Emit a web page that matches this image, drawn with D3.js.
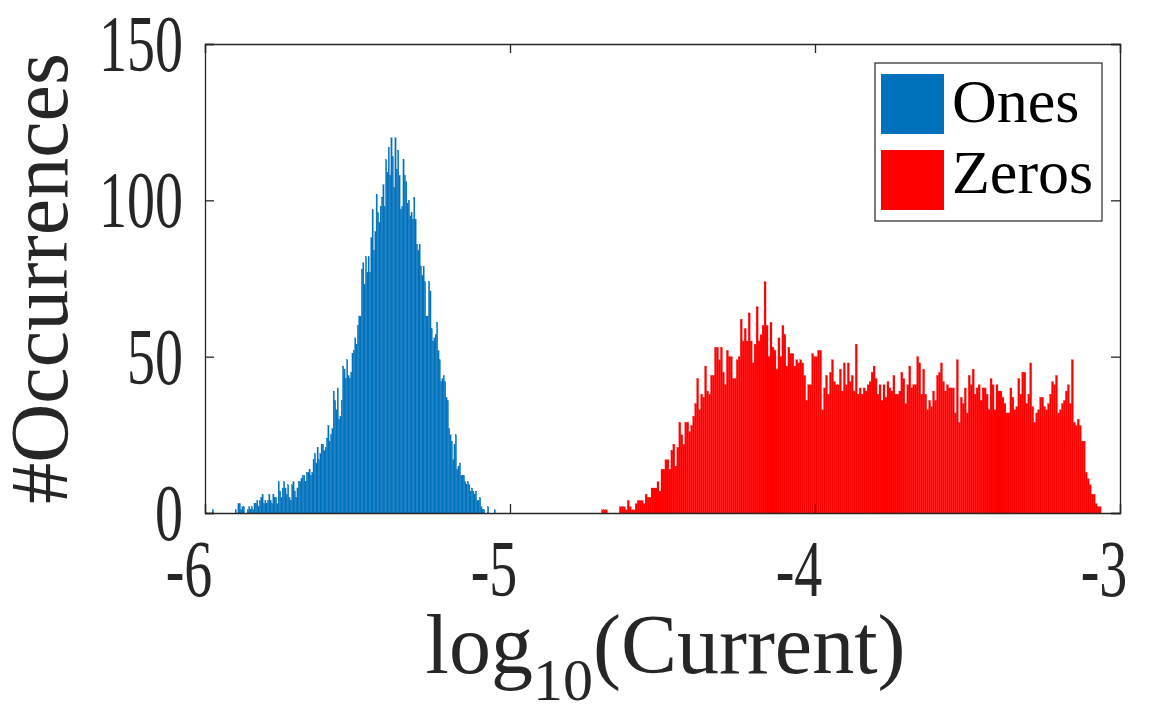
<!DOCTYPE html>
<html lang="en">
<head>
    <meta charset="UTF-8">
    <title>Ones / Zeros current histogram</title>
    <style>
        body { margin: 0; background: #fff; }
        text { font-family: "Liberation Serif", "DejaVu Serif", serif; fill: #262626; }
    </style>
</head>
<body>
<script type='text/javascript' src='https://d3js.org/d3.v7.min.js'></script>
<script>
    // histogram bin counts
    const blueStart = -5.976;   // left edge of first "Ones" bin
    const blueBinWidth = 0.0044;
    const blueCounts = [
        1, 0, 0, 0, 0, 0, 0, 0, 0, 0, 0, 0, 0, 0, 0, 0, 0,
        1, 0, 3, 3, 1, 2, 2, 0, 0, 1, 2, 1, 2, 1,
        3, 3, 4, 2, 4, 5, 6, 3, 4, 3, 4, 6, 4, 3, 6, 5, 5, 3, 10, 7,
        5, 8, 10, 8, 6, 9, 5, 4, 9, 10, 7, 5, 8, 10, 10, 11, 12, 12, 10, 13,
        13, 14, 12, 13, 17, 19, 16, 21, 17, 19, 22, 22, 20, 21, 24, 28, 23, 25, 27, 39,
        36, 33, 40, 30, 31, 36, 47, 46, 43, 49, 44, 43, 45, 51, 52, 56, 54, 60, 63, 63,
        78, 80, 73, 82, 77, 82, 77, 88, 97, 84, 90, 102, 96, 93, 98, 101, 105, 98, 113, 109,
        117, 108, 120, 114, 104, 120, 110, 116, 108, 97, 98, 113, 108, 106, 99, 100, 95, 96, 94, 101,
        94, 86, 84, 86, 79, 76, 79, 74, 63, 63, 74, 71, 59, 55, 56, 57, 61, 52, 49, 42,
        43, 44, 42, 37, 36, 27, 25, 23, 17, 22, 25, 14, 15, 16, 12, 12, 12, 10, 9, 10,
        9, 7, 8, 7, 6, 7, 4, 4, 5, 2, 1, 1, 0, 0, 2, 0, 0, 0, 0, 1
    ];

    const redStart = -4.70;     // left edge of first "Zeros" bin
    const redBinWidth = 0.0065;
    const redCounts = [
        1, 1, 1, 0, 0, 0, 0, 0, 0, 2,
        2, 2, 1, 4, 2, 1, 1, 3, 4, 4,
        4, 3, 6, 5, 5, 8, 8, 8, 10, 7,
        14, 14, 17, 17, 14, 20, 22, 15, 21, 29,
        25, 22, 29, 29, 26, 28, 31, 35, 43, 33,
        38, 37, 47, 39, 38, 44, 44, 53, 53, 49,
        53, 45, 41, 52, 50, 50, 43, 43, 49, 50,
        62, 55, 59, 55, 64, 55, 48, 54, 66, 55,
        57, 60, 74, 60, 50, 61, 53, 52, 46, 56,
        50, 60, 57, 47, 53, 51, 51, 47, 49, 48,
        49, 48, 44, 36, 41, 41, 51, 50, 50, 52,
        52, 33, 40, 44, 38, 45, 49, 42, 41, 41,
        46, 39, 48, 41, 48, 42, 44, 39, 54, 38,
        40, 38, 40, 39, 41, 42, 45, 47, 43, 38,
        41, 36, 41, 37, 42, 40, 39, 44, 38, 38,
        39, 45, 43, 35, 41, 47, 40, 41, 41, 50,
        48, 38, 46, 38, 33, 36, 34, 39, 36, 44,
        45, 48, 42, 39, 41, 40, 40, 40, 32, 49,
        29, 37, 35, 40, 32, 44, 41, 46, 38, 40,
        41, 36, 40, 40, 38, 33, 43, 41, 33, 41,
        39, 39, 37, 35, 32, 32, 40, 37, 33, 34,
        43, 38, 45, 45, 35, 38, 48, 34, 29, 32,
        33, 37, 37, 34, 33, 35, 38, 42, 41, 44,
        32, 33, 35, 36, 39, 41, 35, 49, 29, 28,
        30, 28, 23, 23, 13, 11, 9, 6, 6, 3,
        2, 2
    ];

    const xTicks = [-6, -5, -4, -3];
    const yTicks = [0, 50, 100, 150];
    const seriesNames = ["Ones", "Zeros"];
    const seriesColors = ["#0072BD", "#FF0000"];

    // build bin objects
    const blueBins = blueCounts.map((c, i) => ({x0: blueStart + i * blueBinWidth, x1: blueStart + (i + 1) * blueBinWidth, n: c}));
    const redBins = redCounts.map((c, i) => ({x0: redStart + i * redBinWidth, x1: redStart + (i + 1) * redBinWidth, n: c}));

    // dimensions
    const W = 1152, H = 717;
    const margin = {top: 44, right: 32, bottom: 204, left: 205};
    const width = W - margin.left - margin.right;
    const height = H - margin.top - margin.bottom;
    const axisColor = "#262626";

    const svg = d3.select("body")
        .append("svg")
        .attr("width", W)
        .attr("height", H);

    const g = svg.append("g")
        .attr("transform", "translate(" + margin.left + "," + margin.top + ")");

    const x = d3.scaleLinear().domain([-6, -3]).range([0, width]);
    const y = d3.scaleLinear().domain([0, 150]).range([height, 0]);

    // bars
    function drawBars(bins, color) {
        g.append("g")
            .selectAll("rect")
            .data(bins.filter(d => d.n > 0))
            .enter()
            .append("rect")
            .attr("x", d => x(d.x0))
            .attr("width", d => x(d.x1) - x(d.x0))
            .attr("y", d => y(d.n))
            .attr("height", d => y(0) - y(d.n))
            .attr("fill", color)
            .attr("stroke", color)
            .attr("stroke-width", 0.25);
    }
    drawBars(blueBins, seriesColors[0]);
    drawBars(redBins, seriesColors[1]);

    // axes (MATLAB box with inward ticks on all sides)
    const tickLen = 9;
    const axBottom = g.append("g")
        .attr("transform", "translate(0," + height + ")")
        .call(d3.axisBottom(x).tickValues(xTicks).tickSize(-tickLen).tickFormat(""));
    const axTop = g.append("g")
        .call(d3.axisTop(x).tickValues(xTicks).tickSize(-tickLen).tickFormat(""));
    const axLeft = g.append("g")
        .call(d3.axisLeft(y).tickValues(yTicks).tickSize(-tickLen).tickFormat(""));
    const axRight = g.append("g")
        .attr("transform", "translate(" + width + ",0)")
        .call(d3.axisRight(y).tickValues(yTicks).tickSize(-tickLen).tickFormat(""));
    [axBottom, axTop, axLeft, axRight].forEach(a => {
        a.selectAll("path").attr("stroke", axisColor).attr("stroke-width", 1.3);
        a.selectAll("line").attr("stroke", axisColor).attr("stroke-width", 1.3);
    });

    // tick labels (narrow LaTeX-like digits)
    const tickFont = 80, tickSx = 0.7;
    yTicks.forEach(v => {
        g.append("text")
            .attr("transform", "translate(-22," + (y(v) + 27) + ") scale(" + tickSx + ",1)")
            .attr("text-anchor", "end")
            .attr("font-size", tickFont)
            .text(v);
    });
    xTicks.forEach(v => {
        g.append("text")
            .attr("transform", "translate(" + (x(v) - 16) + "," + (height + 83) + ") scale(" + tickSx + ",1)")
            .attr("text-anchor", "middle")
            .attr("font-size", tickFont)
            .text(v);
    });

    // axis labels
    const xl = g.append("text")
        .attr("transform", "translate(" + (width / 2 + 3) + "," + (height + 160) + ")")
        .attr("text-anchor", "middle")
        .attr("font-size", 84);
    xl.append("tspan").text("log");
    xl.append("tspan").attr("font-size", 60).attr("dy", 27).text("10");
    xl.append("tspan").attr("dy", -27).text("(Current)");

    g.append("text")
        .attr("transform", "translate(" + (67 - margin.left) + "," + (height / 2) + ") rotate(-90)")
        .attr("text-anchor", "middle")
        .attr("font-size", 82)
        .text("#Occurrences");

    // legend
    const lg = svg.append("g").attr("transform", "translate(875,63)");
    lg.append("rect")
        .attr("width", 227).attr("height", 158)
        .attr("fill", "#fff")
        .attr("stroke", axisColor).attr("stroke-width", 1.2);
    seriesNames.forEach((name, i) => {
        lg.append("rect")
            .attr("x", 6).attr("y", 11 + i * 76)
            .attr("width", 63).attr("height", 60)
            .attr("fill", seriesColors[i]);
        lg.append("text")
            .attr("x", 77).attr("y", 59 + i * 71)
            .attr("font-size", 62)
            .style("fill", "#000")
            .text(name);
    });
</script>
</body>
</html>
